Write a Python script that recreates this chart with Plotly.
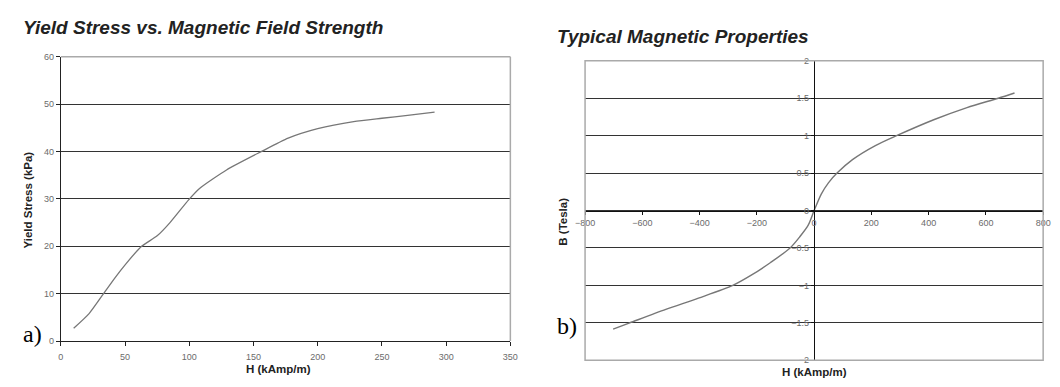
import plotly.graph_objects as go

# ---- data ----
h_yield = [10, 22, 33, 42, 51, 62.5, 75, 85, 99.5, 108, 129, 155.6, 177, 200, 228, 250, 270, 291]
yield_stress = [2.7, 5.8, 9.9, 13.3, 16.4, 19.9, 22.2, 25, 29.8, 32.2, 36.1, 39.9, 42.8, 44.8, 46.3, 47.0, 47.6, 48.3]

h_mag = [-702, -644, -518, -404, -284, -221, -152, -84, -50, -20.6, 0,
         25, 50, 80, 134, 214, 288, 420, 534, 643, 700]
b_mag = [-1.583, -1.5, -1.32, -1.17, -1.0, -0.867, -0.694, -0.5, -0.35, -0.195, 0.0,
         0.22, 0.37, 0.5, 0.68, 0.868, 1.0, 1.216, 1.376, 1.5, 1.57]

W, H = 1060, 387


def px(x):
    return x / W


def py(y):
    return 1 - y / H


tick_font = dict(family="Liberation Sans, Arial", size=9, color="#6b6b6b")
grid_col = "#333"
border_col = "#aaa"
curve_col = "#777"

fig = go.Figure()
fig.add_trace(go.Scatter(x=h_yield, y=yield_stress, mode="lines",
                         line=dict(color=curve_col, width=1.3, shape="spline", smoothing=0.6),
                         xaxis="x", yaxis="y", showlegend=False, hoverinfo="skip"))
fig.add_trace(go.Scatter(x=h_mag, y=b_mag, mode="lines",
                         line=dict(color=curve_col, width=1.4, shape="spline", smoothing=0.8),
                         xaxis="x2", yaxis="y2", showlegend=False, hoverinfo="skip"))

fig.update_layout(
    width=W, height=H, margin=dict(l=0, r=0, t=0, b=0),
    paper_bgcolor="white", plot_bgcolor="white",
    xaxis=dict(domain=[px(51.7), px(509)], range=[0, 350], dtick=50, tick0=0,
               showgrid=False, zeroline=False, showline=True, linecolor="#222", linewidth=1.2,
               ticks="outside", ticklen=4, tickcolor="#222", tickfont=tick_font,
               ticklabelstandoff=3, anchor="y"),
    yaxis=dict(domain=[py(345), py(53)], range=[0, 60], dtick=10, tick0=0,
               showgrid=True, gridcolor=grid_col, gridwidth=1.2, zeroline=False,
               showline=True, linecolor="#222", linewidth=1.2,
               ticks="outside", ticklen=4, tickcolor="#222", tickfont=tick_font, anchor="x"),
    xaxis2=dict(domain=[px(585), px(1051)], range=[-800, 800], dtick=200, tick0=0,
                showgrid=False, zeroline=False, showline=True, linecolor="#111", linewidth=1.2,
                ticks="outside", ticklen=3, tickcolor="#111", tickfont=tick_font,
                anchor="free", position=py(211.7)),
    yaxis2=dict(domain=[py(364.7), py(57.3)], range=[-2, 2], dtick=0.5, tick0=0,
                showgrid=True, gridcolor=grid_col, gridwidth=1.2, zeroline=False,
                showline=True, linecolor="#111", linewidth=1.2,
                ticks="outside", ticklen=3, tickcolor="#111", tickfont=tick_font,
                anchor="free", position=px(817.7)),
)

# gray borders
fig.add_shape(type="line", xref="x domain", yref="y domain", x0=0, x1=1, y0=1, y1=1,
              line=dict(color=border_col, width=1.5), layer="above")
fig.add_shape(type="line", xref="x domain", yref="y domain", x0=1, x1=1, y0=0, y1=1,
              line=dict(color=border_col, width=1.5), layer="above")
fig.add_shape(type="rect", xref="x2 domain", yref="y2 domain", x0=0, x1=1, y0=0, y1=1,
              line=dict(color=border_col, width=1.5), layer="above")

title_font = dict(family="Liberation Sans, Arial", size=19, color="#222")
axis_title_font = dict(family="Liberation Sans, Arial", size=11.5, color="#222")
label_font = dict(family="Liberation Serif, Times New Roman", size=24, color="#000")

annots = [
    dict(text="<b><i>Yield Stress vs. Magnetic Field Strength</i></b>", x=px(11), y=py(23),
         xanchor="left", yanchor="middle", font=title_font),
    dict(text="<b><i>Typical Magnetic Properties</i></b>", x=px(554), y=py(32),
         xanchor="left", yanchor="middle", font=title_font),
    dict(text="<b>Yield Stress (kPa)</b>", x=px(18), y=py(200), textangle=-90,
         xanchor="center", yanchor="middle", font=axis_title_font),
    dict(text="<b>H (kAmp/m)</b>", x=px(273), y=py(374),
         xanchor="center", yanchor="middle", font=axis_title_font),
    dict(text="<b>B (Tesla)</b>", x=px(563), y=py(222), textangle=-90,
         xanchor="center", yanchor="middle", font=axis_title_font),
    dict(text="<b>H (kAmp/m)</b>", x=px(818), y=py(377),
         xanchor="center", yanchor="middle", font=axis_title_font),
    dict(text="a)", x=px(11), y=py(338), xanchor="left", yanchor="middle", font=label_font),
    dict(text="b)", x=px(554), y=py(330), xanchor="left", yanchor="middle", font=label_font),
]
for a in annots:
    fig.add_annotation(xref="paper", yref="paper", showarrow=False, **a)

fig.write_html("out.html", config={"displayModeBar": False},
               post_script="document.body.style.margin='0';document.body.style.padding='0';")
